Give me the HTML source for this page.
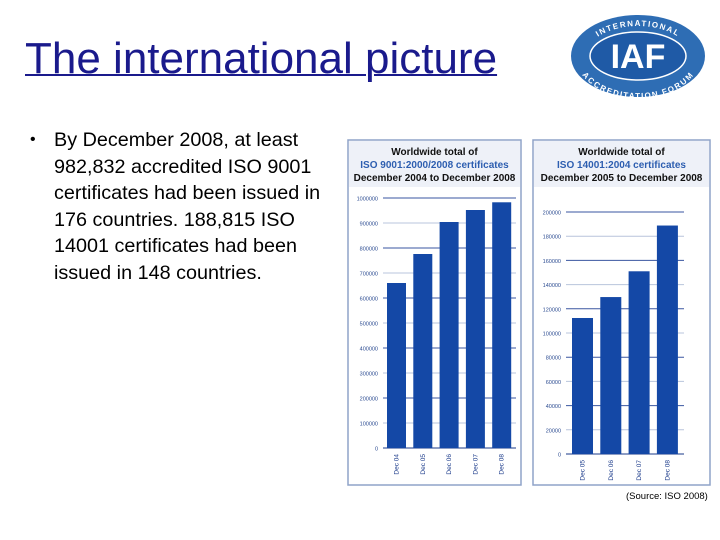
<!DOCTYPE html>
<html><head><meta charset="utf-8"><style>
body{margin:0;width:720px;height:540px;background:#fff;position:relative;overflow:hidden;font-family:"Liberation Sans",sans-serif}
#title{position:absolute;left:25px;top:34px;font-size:44px;color:#1a1a8c;text-decoration:underline;text-decoration-thickness:2px;margin:0;font-weight:normal;white-space:nowrap}
#bullet{position:absolute;left:30px;top:127px;font-size:19.8px;line-height:26.6px;color:#000;width:320px}
#bullet .dot{position:absolute;left:0;top:0;font-size:16px}
#bullet .txt{margin-left:24px;width:290px}
#src{position:absolute;left:626px;top:491px;font-size:9.5px;color:#000}
svg{position:absolute;left:0;top:0}
</style></head><body>
<h1 id="title">The international picture</h1>
<div id="bullet"><span class="dot">•</span><div class="txt">By December 2008, at least 982,832 accredited ISO 9001 certificates had been issued in 176 countries. 188,815 ISO 14001 certificates had been issued in 148 countries.</div></div>
<div id="src">(Source: ISO 2008)</div>
<svg id="svg" width="720" height="540">
 <defs>
  <path id="arcTop" d="M583,60 A55,34 0 0 1 693,60"/>
  <path id="arcBot" d="M581,55 A57,38 0 0 0 695,55"/>
 </defs>
 <g>
  <ellipse cx="638" cy="56" rx="67" ry="41" fill="#2e6db4"/>
  <ellipse cx="638" cy="56" rx="48" ry="24" fill="#1f5aa6" stroke="#fff" stroke-width="1.5"/>
  <text x="638" y="68" text-anchor="middle" font-family="Liberation Sans" font-weight="bold" font-size="34" fill="#fff">IAF</text>
  <text font-family="Liberation Sans" font-weight="bold" font-size="8" fill="#fff" letter-spacing="1.5"><textPath href="#arcTop" startOffset="50%" text-anchor="middle">INTERNATIONAL</textPath></text>
  <text font-family="Liberation Sans" font-weight="bold" font-size="8" fill="#fff" letter-spacing="1"><textPath href="#arcBot" startOffset="50%" text-anchor="middle" dominant-baseline="hanging">ACCREDITATION FORUM</textPath></text>
 </g>
</svg>
<script>
const c1Cats=["Dec 04","Dec 05","Dec 06","Dec 07","Dec 08"];
const c1Vals=[660000,776000,904000,952000,982832];
const c1Ticks=[0,100000,200000,300000,400000,500000,600000,700000,800000,900000,1000000];
const c2Cats=["Dec 05","Dec 06","Dec 07","Dec 08"];
const c2Vals=[112400,129700,151000,188815];
const c2Ticks=[0,20000,40000,60000,80000,100000,120000,140000,160000,180000,200000];
const NS="http://www.w3.org/2000/svg";
const svg=document.getElementById('svg');
function mk(t,a,p){const e=document.createElementNS(NS,t);for(const k in a)e.setAttribute(k,a[k]);(p||svg).appendChild(e);return e;}
function chart(o){
 const g=mk('g',{});
 
 
 mk('rect',{x:o.fx,y:140,width:o.fw,height:345,fill:'#fff',stroke:'#8fa3c8','stroke-width':1.5},g);
 mk('rect',{x:o.fx+1,y:141,width:o.fw-2,height:46,fill:'#eef1f8'},g);
 o.head.forEach((l,i)=>{const t=mk('text',{x:o.fx+o.fw/2,y:155+i*13,'text-anchor':'middle','font-size':10,'font-weight':'bold',fill:i==1?'#2d5eb0':'#111','font-family':'Liberation Sans'},g);t.textContent=l;});
 const maxV=o.ticks[o.ticks.length-1];
 const y=v=>o.y0-(v/maxV)*(o.y0-o.yTop);
 o.ticks.forEach(v=>{
  const ln=mk('line',{x1:o.ax,x2:o.gx2,y1:y(v),y2:y(v),stroke:v%(maxV/5)==0&&v>0?'#3a56a0':'#b8c4dc','stroke-width':1},g);
  
  
  const t=mk('text',{x:o.ax-5,y:y(v)+2.5,'text-anchor':'end','font-size':5.5,fill:'#2a4a90','font-family':'Liberation Sans'},g);
  t.textContent=v;
  
  
 });
 mk('line',{x1:o.ax,x2:o.gx2,y1:o.y0,y2:o.y0,stroke:'#1a3a8a','stroke-width':1},g);
 o.vals.forEach((v,i)=>{
  const x=o.b0+i*o.step;
  const r=mk('rect',{x:x,y:y(v),width:o.bw,height:o.y0-y(v),fill:'#1448a6'},g);
  
  
  const cx=x+o.bw/2+2, cy=o.y0+6;
  const t=mk('text',{x:cx,y:cy,'text-anchor':'end','font-size':6.5,fill:'#1a3a8a','font-family':'Liberation Sans',transform:`rotate(-90 ${cx} ${cy})`},g);
  t.textContent=o.cats[i];
  
  
 });
}
chart({name:'iso9001-chart',fx:348,fw:173,head:['Worldwide total of','ISO 9001:2000/2008 certificates','December 2004 to December 2008'],ticks:c1Ticks,vals:c1Vals,cats:c1Cats,y0:448,yTop:198,ax:383,gx2:516,b0:387,step:26.3,bw:19});
chart({name:'iso14001-chart',fx:533,fw:177,head:['Worldwide total of','ISO 14001:2004 certificates','December 2005 to December 2008'],ticks:c2Ticks,vals:c2Vals,cats:c2Cats,y0:454,yTop:212,ax:566,gx2:684,b0:572,step:28.3,bw:21});
</script>
</body></html>
